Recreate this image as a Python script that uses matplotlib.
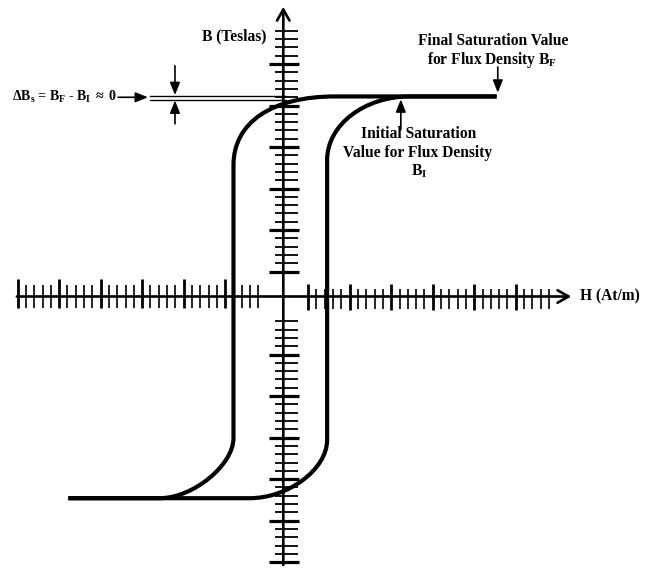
import matplotlib
matplotlib.use("Agg")
import matplotlib.pyplot as plt
from matplotlib.path import Path
from matplotlib.patches import PathPatch

plt.rcParams['font.family'] = ['Liberation Serif', 'DejaVu Serif']
plt.rcParams['font.weight'] = 'bold'
plt.rcParams['mathtext.fontset'] = 'custom'
plt.rcParams['mathtext.rm'] = 'Liberation Serif:bold'
plt.rcParams['mathtext.it'] = 'Liberation Serif:bold'
plt.rcParams['mathtext.bf'] = 'Liberation Serif:bold'

# ---- data (H and B in scale divisions) ----
# descending branch: straight runs joined by cubic Bezier corners
desc_H = [25.7, 6.2, -1.36, -6.0, -6.0, -6.0, -6.0, -10.88, -14.88, -25.9]
desc_B = [24.1, 24.1, 24.1, 20.96, 15.84, -17.05, -20.31, -24.3, -24.3, -24.3]
# ascending branch
asc_H = [-25.9, -4.04, 0.62, 5.28, 5.28, 5.28, 5.28, 9.76, 15.24, 25.7]
asc_B = [-24.3, -24.3, -24.3, -20.8, -17.29, 16.45, 20.66, 24.1, 24.1, 24.1]

B_final = 24.16      # final saturation flux density level
B_initial = 23.67    # initial saturation flux density level

h_ticks = [h for h in range(-32, 33) if abs(h) >= 3]
b_ticks = [b for b in range(-32, 33) if abs(b) >= 3]
MAJOR_STEP, MAJOR_OFFSET = 5, 3

# ---- layout ----
PX = 8.3  # pixels per division
fig = plt.figure(figsize=(6.52, 5.69), dpi=100)
ax = fig.add_axes([0, 0, 1, 1])
ax.set_xlim(-34.13, 44.42)
ax.set_ylim(-32.83, 35.72)
ax.axis('off')

INK = 'black'

# axes with open arrowheads
ax.annotate('', xy=(34.7, 0), xytext=(-32.1, 0),
            arrowprops=dict(arrowstyle='->,head_length=0.8,head_width=0.45',
                            lw=1.9, color=INK, shrinkA=0, shrinkB=0))
ax.annotate('', xy=(0, 34.9), xytext=(0, -32.35),
            arrowprops=dict(arrowstyle='->,head_length=0.8,head_width=0.45',
                            lw=1.9, color=INK, shrinkA=0, shrinkB=0))

# H-axis ticks
for h in h_ticks:
    major = (h - MAJOR_OFFSET) % MAJOR_STEP == 0
    if h < 0:
        up, down = (17, 12) if major else (11.5, 12)
    else:
        up, down = (12, 14) if major else (7.5, 13)
    ax.vlines(h, -down / PX, up / PX, color=INK,
              lw=2.0 if major else 1.2)

# B-axis ticks
for b in b_ticks:
    major = (b - MAJOR_OFFSET) % MAJOR_STEP == 0
    left, right = (14, 15.5) if major else (8, 14.5)
    ax.hlines(b, -left / PX, right / PX, color=INK,
              lw=2.3 if major else 1.3)

# hysteresis loop
codes = [Path.MOVETO, Path.LINETO, Path.CURVE4, Path.CURVE4, Path.CURVE4,
         Path.LINETO, Path.CURVE4, Path.CURVE4, Path.CURVE4, Path.LINETO]
for hs, bs in ((desc_H, desc_B), (asc_H, asc_B)):
    path = Path(list(zip(hs, bs)), codes)
    ax.add_patch(PathPatch(path, fill=False, lw=3.0, color=INK,
                           capstyle='butt', joinstyle='round'))

# saturation difference marker (double line)
for lev in (B_final, B_initial):
    ax.plot([-16.05, 0.3], [lev, lev], color=INK, lw=1.0)

filled = dict(arrowstyle='-|>,head_length=0.75,head_width=0.3',
              lw=1.2, color=INK, shrinkA=0, shrinkB=0)
ax.annotate('', xy=(-13.05, B_final + 0.1), xytext=(-13.05, 27.8), arrowprops=filled)
ax.annotate('', xy=(-13.05, B_initial - 0.05), xytext=(-13.05, 20.8), arrowprops=filled)
ax.annotate('', xy=(-16.3, 24.0), xytext=(-19.9, 24.0), arrowprops=filled)
ax.annotate('', xy=(25.84, 24.55), xytext=(25.84, 27.65), arrowprops=filled)
ax.annotate('', xy=(14.16, 23.75), xytext=(14.16, 20.1), arrowprops=filled)

# labels
fs = 11.2
ax.text(-5.94, 31.29, 'B (Teslas)', ha='center', va='center', fontsize=fs, color=INK)
ax.text(35.7, 0.0, 'H (At/m)', ha='left', va='center', fontsize=fs, color=INK)
ax.text(25.3, 30.78, 'Final Saturation Value', ha='center', va='center',
        fontsize=fs, color=INK)
ax.text(25.2, 28.53, 'for Flux Density B$_F$', ha='center', va='center',
        fontsize=fs, color=INK)
ax.text(16.35, 19.52, 'Initial Saturation', ha='center', va='center',
        fontsize=fs, color=INK)
ax.text(16.23, 17.29, 'Value for Flux Density', ha='center', va='center',
        fontsize=fs, color=INK)
ax.text(16.35, 15.06, 'B$_I$', ha='center', va='center', fontsize=fs, color=INK)
ax.text(-32.7, 24.0, r'$\Delta$B$_s$ = B$_F$ - B$_I$ $\approx$ 0', ha='left',
        va='center', fontsize=10, color=INK)

fig.savefig('out.png', dpi=100)
